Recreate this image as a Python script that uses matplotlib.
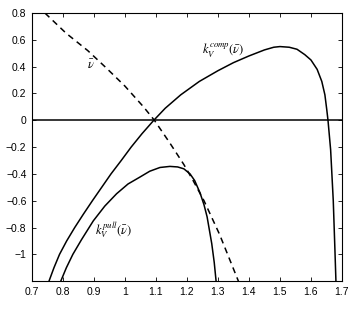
import matplotlib
matplotlib.use('Agg')
import matplotlib.pyplot as plt

plt.rcParams['font.family'] = ['Liberation Sans', 'DejaVu Sans']
plt.rcParams['mathtext.fontset'] = 'stix'

# k_V^comp curve
comp_x = [0.755, 0.771, 0.789, 0.812, 0.838, 0.866, 0.895, 0.925, 0.955, 0.988, 1.02, 1.055,
          1.093, 1.13, 1.18, 1.24, 1.30, 1.35, 1.40, 1.45, 1.48, 1.50, 1.53, 1.555, 1.58,
          1.60, 1.62, 1.635, 1.645, 1.651, 1.655, 1.6635, 1.672, 1.6774, 1.6806]
comp_y = [-1.2, -1.1, -1.0, -0.9, -0.8, -0.7, -0.6, -0.5, -0.4, -0.3, -0.2, -0.1,
          0.0, 0.09, 0.19, 0.29, 0.37, 0.43, 0.48, 0.525, 0.545, 0.55, 0.545, 0.53, 0.49,
          0.45, 0.38, 0.29, 0.19, 0.08, 0.0, -0.22, -0.6, -0.97, -1.2]

# k_V^pull curve
pull_x = [0.793, 0.811, 0.832, 0.86, 0.898, 0.935, 0.973, 1.01, 1.048, 1.08, 1.113, 1.145,
          1.17, 1.19, 1.21, 1.225, 1.242, 1.255, 1.265, 1.28, 1.288, 1.294]
pull_y = [-1.2, -1.1, -1.0, -0.89, -0.75, -0.64, -0.548, -0.475, -0.424, -0.38, -0.352, -0.344,
          -0.348, -0.362, -0.40, -0.45, -0.54, -0.63, -0.72, -0.92, -1.06, -1.2]

# nu bar (dashed)
nu_x = [0.742, 0.81, 0.88, 0.94, 1.0, 1.06, 1.095, 1.145, 1.19, 1.22, 1.255, 1.305, 1.366]
nu_y = [0.8, 0.65, 0.52, 0.39, 0.255, 0.1, 0.0, -0.17, -0.33, -0.45, -0.6, -0.85, -1.2]

xticks = [0.7, 0.8, 0.9, 1.0, 1.1, 1.2, 1.3, 1.4, 1.5, 1.6, 1.7]
xlabels = ['0.7', '0.8', '0.9', '1', '1.1', '1.2', '1.3', '1.4', '1.5', '1.6', '1.7']
yticks = [-1.0, -0.8, -0.6, -0.4, -0.2, 0.0, 0.2, 0.4, 0.6, 0.8]
ylabels = ['\u22121', '\u22120.8', '\u22120.6', '\u22120.4', '\u22120.2', '0', '0.2', '0.4', '0.6', '0.8']

fig = plt.figure(figsize=(3.63, 3.11), dpi=100)
ax = fig.add_axes([0.088, 0.096, 0.854, 0.862])

ax.plot(comp_x, comp_y, color='black', lw=1.1)
ax.plot(pull_x, pull_y, color='black', lw=1.1)
ax.plot(nu_x, nu_y, color='black', lw=1.1, ls=(0, (4, 3)))
ax.axhline(0, color='black', lw=1.1)

ax.text(0.89, 0.41, r'$\bar{\nu}$', fontsize=9, ha='center', va='center')
ax.text(1.247, 0.52, r'$k_V^{comp}(\bar{\nu})$', fontsize=9, ha='left', va='center')
ax.text(0.903, -0.815, r'$k_V^{pull}(\bar{\nu})$', fontsize=9, ha='left', va='center')

ax.set_xlim(0.7, 1.7)
ax.set_ylim(-1.2, 0.8)
ax.set_xticks(xticks)
ax.set_xticklabels(xlabels)
ax.set_yticks(yticks)
ax.set_yticklabels(ylabels)
ax.tick_params(direction='in', top=True, right=True, length=3, width=0.6,
               labelsize=7.5, pad=4)
for s in ax.spines.values():
    s.set_linewidth(0.8)

fig.savefig('out.png', dpi=100)
